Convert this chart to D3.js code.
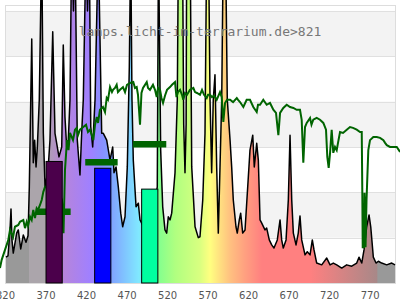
<!DOCTYPE html>
<html>
<head>
<meta charset="utf-8">
<script src="https://cdn.jsdelivr.net/npm/d3@7"></script>
<style>
  body { margin: 0; background: #fff; }
  svg { display: block; }
</style>
</head>
<body>
<div id="chart"></div>
<script>
// lamp spectrum (nm, relative intensity; peaks above 6.13 leave the plot)
var lampNm = [321.2, 323.7, 326.2, 327.4, 328.6, 330.2, 334.4, 336.4, 339.4, 342.6, 345.9, 348.4,
  350, 353, 354.9, 356.6, 358.3, 359.9, 362.3, 365.3, 367.3, 369.4, 373.1, 375.5, 378.9, 381.7,
  386.6, 390, 391.9, 394, 396.1, 398.1, 400.2, 402.3, 404.5, 406.4, 409.2, 412.5, 414.6, 416.6,
  420, 421.8, 424, 425.8, 428.2, 431.1, 435.1, 439.3, 441.3, 445.5, 449.6, 452.9, 454.5, 457,
  459.8, 462.8, 465.2, 468.1, 470.9, 473.4, 475.1, 476.7, 478.3, 481.7, 484.5, 486.6, 492.8,
  498.9, 505.1, 507.9, 509.4, 512.1, 514.6, 517.4, 519.5, 521.5, 523.6, 525.7, 529.8, 532.6,
  534, 539, 540.5, 542.1, 543.5, 544.2, 548.5, 550.4, 554.5, 558.5, 560.6, 564, 566.8, 568.9,
  571.1, 573, 575, 577, 579.1, 581.2, 583.2, 585.3, 587.4, 589.4, 592.1, 594.3, 597.7, 599.7,
  601.7, 605, 606.6, 609.1, 610.8, 613.3, 616.2, 619, 622.3, 625.7, 627.6, 630.6, 632.6, 634.7,
  636.8, 640.8, 642.9, 646.1, 649.1, 651.9, 656, 659.4, 661.4, 663.4, 666.8, 669.6, 671.7, 673.8,
  675.8, 679.1, 681.9, 684, 686.1, 690.2, 693, 696.4, 699.2, 701.3, 704.6, 710.8, 717, 721.1,
  725.1, 729.3, 735.5, 741.6, 747.8, 754, 756.8, 760.2, 763, 766.3, 769.2, 771.3, 774.5, 777.8,
  780.7, 784.8, 791, 797.2, 801.3];
var lampVal = [0.57, 0.6, 1.17, 1.63, 0.95, 0.66, 1.1, 1.17, 0.75, 1.06, 0.9, 1.04,
  2.12, 5.38, 2.65, 3.15, 2.56, 3.0, 4.04, 7.5, 3.3, 2.12, 2.49, 3.15, 5.54, 3.3,
  2.78, 3.0, 5.25, 3.66, 3.0, 3.15, 4.04, 7.5, 6.0, 7.5, 3.15, 2.38, 3.3, 4.04,
  7.5, 6.0, 7.5, 3.45, 3.0, 4.04, 7.5, 3.3, 3.3, 3.15, 2.71, 3.0, 2.43, 2.56,
  2.12, 1.54, 1.24, 1.46, 2.56, 4.77, 7.5, 4.04, 2.71, 1.68, 1.76, 1.39, 1.17,
  1.28, 1.83, 2.12, 7.5, 2.93, 1.68, 1.17, 1.1, 1.46, 1.39, 1.54, 2.43, 4.04,
  7.5, 7.5, 3.5, 2.43, 3.5, 7.5, 7.5, 2.56, 1.24, 1.0, 1.02, 1.83, 3.3, 7.5,
  7.5, 4.04, 2.43, 4.04, 4.59, 2.56, 1.1, 2.56, 4.04, 7.5, 7.5, 4.04, 3.15, 2.56,
  1.83, 1.24, 1.1, 1.39, 1.54, 1.1, 1.17, 1.98, 2.93, 3.26, 2.56, 3.08, 2.71, 1.39,
  1.32, 1.17, 1.21, 0.95, 0.84, 0.77, 0.95, 1.39, 0.95, 0.77, 0.95, 1.83, 3.26, 1.83,
  1.1, 0.84, 1.1, 1.48, 0.95, 0.62, 0.69, 0.62, 0.95, 0.73, 0.44, 0.4, 0.55, 0.4,
  0.44, 0.4, 0.33, 0.4, 0.37, 0.44, 0.57, 0.44, 0.73, 1.24, 1.5, 1.24, 0.57, 0.44,
  0.48, 0.44, 0.4, 0.44, 0.4];

// reference daylight curve
var sunNm = [313.8, 315.9, 320, 324.1, 326.2, 329.9, 332.3, 336.4, 338.5, 342.6, 344.7, 346.8,
  348.4, 350.9, 352.9, 354.9, 357, 359.1, 360.7, 363.2, 365.3, 367.3, 369.4, 375.5, 381.7,
  387.9, 390.3, 392.2, 394, 396.5, 398.4, 400.2, 403.9, 406.4, 408.5, 410.1, 412.5, 416.6,
  420, 422.4, 424.9, 429, 431.1, 433.2, 434.8, 437.2, 440.9, 443.4, 445.5, 447.1, 449.6, 452,
  453.3, 455.7, 457.8, 459.4, 461.9, 465.6, 468.1, 470.5, 474.3, 478.3, 480.4, 482.5, 484.1,
  486.6, 488.4, 490.3, 494.9, 496.5, 498.9, 502.6, 505.1, 507.2, 508.8, 511.3, 513.1, 515,
  517.4, 519.9, 523.6, 526.1, 529.8, 531.6, 533.5, 536, 538.4, 540, 542.1, 544.6, 548.3,
  552.4, 554.5, 556.9, 560.6, 563.1, 565.6, 568.9, 570.5, 573, 575.4, 577.9, 581.2, 585.3,
  587.4, 589.4, 591.5, 594, 597.7, 601.4, 606, 607.6, 610, 614.1, 618.2, 622.3, 626.4,
  630.6, 632.2, 634.7, 638.7, 642.9, 647, 651.1, 654.4, 657.3, 659.4, 663.4, 667.6, 671.7,
  675.8, 679.9, 684, 686.1, 688.1, 690.2, 692.3, 696.4, 698.2, 700.4, 704.6, 708.7, 712.8,
  716.1, 717.7, 719.4, 721.1, 723.1, 725.1, 727.2, 729.3, 730.9, 733.4, 737.1, 741.7, 745.7,
  749.4, 754, 758.1, 760.2, 760.9, 761.4, 763, 763.6, 764.9, 766.1, 768.3, 770.4, 774.5,
  778.7, 782.8, 786.9, 789, 791.1, 795.1, 798.8, 803.4, 807.5];
var sunVal = [0.33, 0.51, 0.73, 0.95, 1.17, 1.01, 1.24, 1.28, 1.35, 1.39, 1.21, 1.35,
  1.26, 1.46, 1.39, 1.61, 1.43, 1.65, 1.61, 1.72, 1.83, 2.01, 2.12, 2.16, 2.05,
  1.94, 1.83, 1.1, 2.49, 3.15, 2.93, 3.31, 3.15, 3.38, 3.42, 3.26, 3.38, 3.44,
  3.49, 3.33, 3.38, 3.15, 3.49, 3.66, 3.53, 3.82, 3.88, 3.77, 4.08, 4.04, 4.32, 4.21,
  4.26, 4.3, 4.37, 4.21, 4.26, 4.32, 4.21, 4.37, 4.41, 4.43, 4.3, 4.32, 4.15,
  3.49, 4.19, 4.3, 4.43, 4.3, 4.26, 4.37, 4.26, 4.1, 4.3, 4.26, 4.08, 3.97,
  4.13, 4.26, 4.32, 4.37, 4.43, 4.1, 4.21, 4.26, 4.15, 4.04, 4.19, 4.15, 4.26,
  4.3, 4.21, 4.19, 4.15, 4.26, 4.15, 4.08, 4.15, 4.15, 4.1, 4.13, 4.04, 4.21,
  4.1, 3.55, 3.97, 4.04, 4.04, 3.99, 4.08, 4.04, 3.99, 3.88, 4.04, 4.04, 3.88,
  3.77, 3.93, 3.93, 4.04, 3.93, 3.97, 3.82, 3.75, 3.26, 3.75, 3.86, 3.93, 3.88,
  3.86, 3.82, 3.82, 3.6, 2.65, 3.44, 3.53, 3.64, 3.49, 3.6, 3.64, 3.6, 3.53,
  3.38, 2.78, 2.54, 2.87, 3.38, 2.87, 3.0, 2.93, 3.09, 3.33, 3.31, 3.38, 3.44,
  3.42, 3.38, 3.33, 3.33, 1.99, 0.79, 0.79, 1.99, 0.79, 1.83, 2.93, 3.15, 3.22,
  3.22, 3.2, 3.15, 3.09, 3.04, 3.0, 3.0, 3.0, 2.89];

// band bars and band averages
var barFrom = [370, 430, 488];
var barTo = [390, 450, 508];
var barVal = [2.68, 2.53, 2.07];
var segFrom = [358, 419, 478];
var segTo = [401, 459, 519];
var segVal = [1.57, 2.66, 3.06];

var xTicks = [320, 370, 420, 470, 520, 570, 620, 670, 720, 770];
var gridVals = [0, 1, 2, 3, 4, 5, 6];
var title = "lamps.licht-im-terrarium.de>821";

var barColors = ["#4b004b", "#0000ff", "#00ffa0"];
var spectrumStops = [
  [320, "#999999"], [350, "#999999"], [350, "#aba5ab"], [370, "#aba5ab"], [390, "#b885d8"],
  [425, "#a080ff"], [440, "#8890ff"], [450, "#80a0ff"], [485, "#80e8ff"], [508, "#80ff90"],
  [530, "#b0ff80"], [560, "#d8ff80"], [573, "#ffff80"], [585, "#ffe080"], [598, "#ffc080"],
  [616, "#ffa080"], [637, "#ff8080"], [696, "#ff8080"], [779, "#a88888"], [780, "#999999"],
  [802, "#999999"]
];

var w = 400, h = 300;

var svg = d3.select("#chart").append("svg")
  .attr("width", w)
  .attr("height", h);

var x = d3.scaleLinear().domain([320, 800]).range([5, 394]);
var y = d3.scaleLinear().domain([0, 6.13]).range([283, 5]);

// background bands
svg.append("g").selectAll("rect")
  .data([1, 3, 5])
  .enter().append("rect")
  .attr("x", 6).attr("width", 389)
  .attr("y", function(d) { return y(d + 1); })
  .attr("height", function(d) { return y(d) - y(d + 1); })
  .attr("fill", "#f3f3f3");

svg.append("g").selectAll("line")
  .data(gridVals)
  .enter().append("line")
  .attr("x1", 6).attr("x2", 395)
  .attr("y1", function(d) { return Math.round(y(d)) + 0.5; })
  .attr("y2", function(d) { return Math.round(y(d)) + 0.5; })
  .attr("stroke", "#e0e0e0");

svg.append("rect")
  .attr("x", 5.5).attr("y", 5.5)
  .attr("width", 390).attr("height", 278)
  .attr("fill", "none")
  .attr("stroke", "#dddddd");

// spectral colour gradient
var grad = svg.append("defs").append("linearGradient")
  .attr("id", "spec")
  .attr("gradientUnits", "userSpaceOnUse")
  .attr("x1", x(320)).attr("x2", x(802))
  .attr("y1", 0).attr("y2", 0);
grad.selectAll("stop").data(spectrumStops).enter().append("stop")
  .attr("offset", function(d) { return (x(d[0]) - x(320)) / (x(802) - x(320)); })
  .attr("stop-color", function(d) { return d[1]; });

var lamp = lampNm.map(function(n, i) { return [n, lampVal[i]]; });
var sun = sunNm.map(function(n, i) { return [n, sunVal[i]]; });

var area = d3.area()
  .x(function(d) { return x(d[0]); })
  .y0(y(0))
  .y1(function(d) { return y(d[1]); });
var line = d3.line()
  .x(function(d) { return x(d[0]); })
  .y(function(d) { return y(d[1]); });

svg.append("path").datum(lamp)
  .attr("d", area)
  .attr("fill", "url(#spec)");
svg.append("path").datum(lamp)
  .attr("d", line)
  .attr("fill", "none")
  .attr("stroke", "#000")
  .attr("stroke-width", 1.5)
  .attr("stroke-linejoin", "round");

svg.append("path").datum(sun)
  .attr("d", line)
  .attr("fill", "none")
  .attr("stroke", "#006400")
  .attr("stroke-width", 2);

svg.append("g").selectAll("line")
  .data(segVal)
  .enter().append("line")
  .attr("x1", function(d, i) { return x(segFrom[i]); })
  .attr("x2", function(d, i) { return x(segTo[i]); })
  .attr("y1", function(d) { return y(d); })
  .attr("y2", function(d) { return y(d); })
  .attr("stroke", "#006400")
  .attr("stroke-width", 6.5);

svg.append("g").selectAll("rect")
  .data(barVal)
  .enter().append("rect")
  .attr("x", function(d, i) { return x(barFrom[i]) + 0.5; })
  .attr("width", function(d, i) { return x(barTo[i]) - x(barFrom[i]); })
  .attr("y", function(d) { return y(d); })
  .attr("height", function(d) { return y(0) - y(d); })
  .attr("fill", function(d, i) { return barColors[i]; })
  .attr("stroke", "#000")
  .attr("stroke-width", 1);

var xAxis = svg.append("g")
  .attr("transform", "translate(0,283)")
  .call(d3.axisBottom(x).tickValues(xTicks).tickSize(0).tickPadding(9).tickFormat(d3.format("d")));
xAxis.select(".domain").remove();
xAxis.selectAll("text")
  .attr("fill", "#555")
  .style("font-family", "DejaVu Sans")
  .style("font-size", "10px");

svg.append("text")
  .attr("x", 200).attr("y", 36)
  .attr("text-anchor", "middle")
  .style("font-family", "DejaVu Sans Mono")
  .style("font-size", "13px")
  .attr("fill", "#777")
  .text(title);
</script>
</body>
</html>
